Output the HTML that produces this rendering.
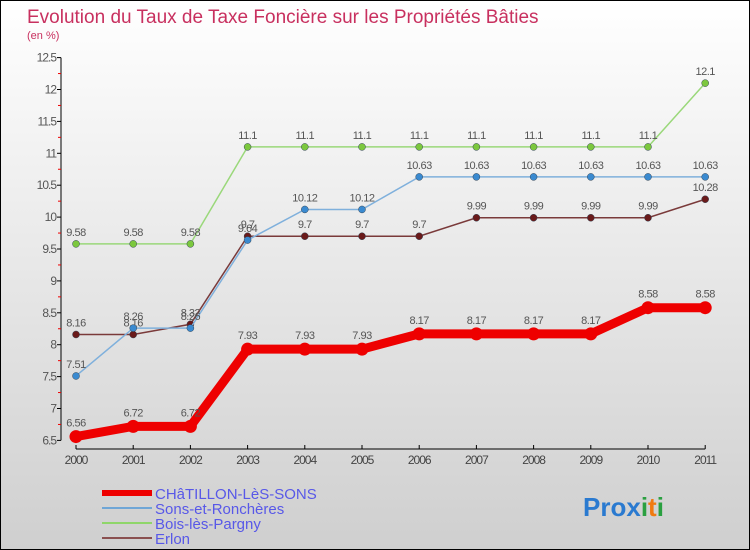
<!DOCTYPE html>
<html><head><meta charset="utf-8"><style>
body{margin:0;width:750px;height:550px;overflow:hidden}
#c{position:absolute;left:0;top:0;width:748px;height:548px;border:1px solid #000;background:linear-gradient(#fff,#cfcfcf);font-family:"Liberation Sans",sans-serif}
</style></head><body>
<div id="c">
<svg id="s" width="750" height="550" style="position:absolute;left:-1px;top:-1px">
<text x="27" y="23" font-size="19" fill="#c8305f">Evolution du Taux de Taxe Foncière sur les Propriétés Bâties</text>
<text x="27" y="39" font-size="11" fill="#c8305f">(en %)</text>
<g id="ax"></g><g id="ln"></g>
<g>
<line x1="102" y1="493" x2="152" y2="493" stroke="#e00" stroke-width="6"/>
<text x="155" y="499" font-size="15" fill="#5858e8">CHâTILLON-LèS-SONS</text>
<line x1="102" y1="508" x2="152" y2="508" stroke="#6fa6d6" stroke-width="2"/>
<text x="155" y="514" font-size="15" fill="#5858e8">Sons-et-Ronchères</text>
<line x1="102" y1="523" x2="152" y2="523" stroke="#8fd66a" stroke-width="2"/>
<text x="155" y="529" font-size="15" fill="#5858e8">Bois-lès-Pargny</text>
<line x1="102" y1="538" x2="152" y2="538" stroke="#8a5050" stroke-width="2"/>
<text x="155" y="544" font-size="15" fill="#5858e8">Erlon</text>
</g>
<text x="583" y="516" font-size="26" font-weight="bold"><tspan fill="#2a7ad0">Pro</tspan><tspan fill="#2a7ad0">x</tspan><tspan fill="#2aa040">i</tspan><tspan fill="#f07a10">t</tspan><tspan fill="#2aa040">i</tspan></text>
</svg></div>
<script>
const years=[2000,2001,2002,2003,2004,2005,2006,2007,2008,2009,2010,2011];
const chatillon=[6.56,6.72,6.72,7.93,7.93,7.93,8.17,8.17,8.17,8.17,8.58,8.58];
const sons=[7.51,8.26,8.26,9.64,10.12,10.12,10.63,10.63,10.63,10.63,10.63,10.63];
const bois=[9.58,9.58,9.58,11.1,11.1,11.1,11.1,11.1,11.1,11.1,11.1,12.1];
const erlon=[8.16,8.16,8.32,9.7,9.7,9.7,9.7,9.99,9.99,9.99,9.99,10.28];
const yTicks=[6.5,7,7.5,8,8.5,9,9.5,10,10.5,11,11.5,12,12.5];
const NS="http://www.w3.org/2000/svg";
const X=i=>76+i*57.2, Y=v=>440.4-(v-6.5)*63.8;
function mk(p,t,a){const e=document.createElementNS(NS,t);for(const k in a)e.setAttribute(k,a[k]);p.appendChild(e);return e;}
const ax=document.getElementById('ax'),ln=document.getElementById('ln');
const ya=mk(ax,'line',{x1:61,y1:Y(12.5),x2:61,y2:Y(6.5),stroke:'#000'});


yTicks.forEach(v=>{
 mk(ax,'line',{x1:57,y1:Y(v),x2:61,y2:Y(v),stroke:'#000'});
 mk(ax,'line',{x1:58,y1:Y(v+0.25),x2:61,y2:Y(v+0.25),stroke:v<12.5?'#e00':'none'});
 const t=mk(ax,'text',{x:56,y:Y(v)+4,'font-size':12,fill:'#555','text-anchor':'end','letter-spacing':'-1'});t.textContent=v;
 
 
});
const xa=mk(ax,'line',{x1:X(0),y1:449,x2:X(11),y2:449,stroke:'#000'});


years.forEach((y,i)=>{
 mk(ax,'line',{x1:X(i),y1:445,x2:X(i),y2:449,stroke:'#000'});
 const t=mk(ax,'text',{x:X(i),y:464,'font-size':12,fill:'#444','text-anchor':'middle','letter-spacing':'-1'});t.textContent=y;
 
 
});
function series(d,col,dot,w,r,name){
 const g=mk(ln,'g',{});
 
 
 mk(g,'polyline',{points:d.map((v,i)=>X(i)+','+Y(v)).join(' '),fill:'none',stroke:col,'stroke-width':w});
 d.forEach((v,i)=>{
  const c=mk(g,'circle',{cx:X(i),cy:Y(v),r:r,fill:dot,stroke:r>4?'none':'#345','stroke-width':0.5});
  
  
  const t=mk(g,'text',{x:X(i),y:Y(v)-(r>4?10:8),'font-size':11,fill:'#555','text-anchor':'middle','letter-spacing':'-0.5'});t.textContent=v;
 });
}
series(bois,'#9ad87a','#7cc83e',1.5,3.5,'series-bois');
series(erlon,'#7a3a3a','#6a1a1a',1.5,3.5,'series-erlon');
series(sons,'#7fb0dc','#3a8ad0',1.5,3.5,'series-sons');
series(chatillon,'#e00','#e00',9,6.5,'series-chatillon');
</script>
</body></html>
